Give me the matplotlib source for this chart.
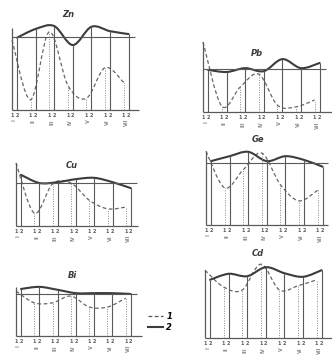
import numpy as np
import matplotlib
matplotlib.use('Agg')
import matplotlib.pyplot as plt
from matplotlib.path import Path
from matplotlib.patches import PathPatch
from matplotlib.lines import Line2D

# ---------------- data ----------------
elements = ['Zn', 'Pb', 'Cu', 'Ge', 'Bi', 'Cd']
periods = ['I', 'II', 'III', 'IV', 'V', 'VI', 'VII']
pair_labels = ['1', '2']
legend_labels = ['1', '2']

zn_1 = [96, 14, 107, 34, 16, 58, 38]
zn_2 = [99, 111, 115, 89, 114, 108, 104]
pb_1 = [163, 14, 58, 88, 16, 12, 28]
pb_2 = [98, 93, 102, 95, 123, 102, 114]
cu_1 = [147, 30, 98, 100, 60, 40, 44]
cu_2 = [119, 100, 102, 109, 112, 102, 88]
ge_1 = [119, 60, 89, 116, 65, 39, 56]
ge_2 = [103, 111, 118, 103, 111, 105, 94]
bi_1 = [107, 79, 79, 95, 69, 69, 90]
bi_2 = [112, 117, 110, 102, 102, 102, 100]
cd_1 = [113, 85, 80, 123, 80, 87, 97]
cd_2 = [97, 107, 103, 118, 108, 102, 113]
reference_level = 100

series_1 = {'Zn': zn_1, 'Pb': pb_1, 'Cu': cu_1, 'Ge': ge_1, 'Bi': bi_1, 'Cd': cd_1}
series_2 = {'Zn': zn_2, 'Pb': pb_2, 'Cu': cu_2, 'Ge': ge_2, 'Bi': bi_2, 'Cd': cd_2}

# ---------------- layout (pixels) ----------------
W, H = 332, 356
layout = {
    'Zn': dict(xs0=17, s=18.6, yb=110, k=73, box=(6, 140, 4, 134), title=(68, 15), top=112, xend=6.55, base=True),
    'Pb': dict(xs0=208, s=18.6, yb=112, k=43, box=(196, 332, 34, 136), title=(257, 53), top=163, xend=6.67, base=True),
    'Cu': dict(xs0=21, s=18.3, yb=226, k=43, box=(4, 142, 150, 248), title=(72, 165), top=147, xend=6.4, base=True),
    'Ge': dict(xs0=211, s=18.6, yb=225, k=62, box=(198, 332, 132, 248), title=(258, 140), top=119, xend=6.3, base=True),
    'Bi': dict(xs0=21, s=18.3, yb=336, k=42, box=(6, 144, 266, 356), title=(72, 275), top=117, xend=6.6, base=True),
    'Cd': dict(xs0=210, s=18.6, yb=338, k=60, box=(198, 332, 248, 356), title=(258, 254), top=113, xend=6.67, base=False),
}
OFF = 5  # px between dotted (1) and solid (2) verticals

DARK = '#3c3c3c'
MID = '#5a5a5a'
LIGHT = '#8a8a8a'


def smooth_path(x, y):
    pts = np.column_stack([x, y]).astype(float)
    n = len(pts)
    verts = [pts[0]]
    codes = [Path.MOVETO]
    for i in range(n - 1):
        p0 = pts[i - 1] if i > 0 else pts[i]
        p1 = pts[i]
        p2 = pts[i + 1]
        p3 = pts[i + 2] if i + 2 < n else pts[i + 1]
        verts += [p1 + (p2 - p0) / 6, p2 - (p3 - p1) / 6, p2]
        codes += [Path.CURVE4] * 3
    return Path(verts, codes)


fig = plt.figure(figsize=(W / 100, H / 100), dpi=100)
fig.patch.set_facecolor('white')

for el in elements:
    lo = layout[el]
    v1 = np.array(series_1[el], dtype=float)
    v2 = np.array(series_2[el], dtype=float)
    L, R, T, B = lo['box']
    xs0, s, yb, k = lo['xs0'], lo['s'], lo['yb'], lo['k']
    ax = fig.add_axes([L / W, 1 - B / H, (R - L) / W, (B - T) / H])
    ax.set_xlim((L - xs0) / s, (R - xs0) / s)
    ax.set_ylim((yb - B) / k * 100, (yb - T) / k * 100)
    ax.axis('off')

    xs = np.arange(len(periods), dtype=float)
    xd = xs - OFF / s

    # verticals
    ax.vlines(xs, 0, v2, colors=MID, lw=0.8, clip_on=False)
    ax.vlines(xd[1:], 0, v1[1:], colors=LIGHT, lw=0.7, linestyles=(0, (1, 1.5)), clip_on=False)
    ax.vlines(xd[0], 0, lo['top'], colors=MID, lw=0.9, clip_on=False)
    # bottom axis and reference level
    ax.hlines(0, xd[0], lo['xend'], colors=MID, lw=0.9, clip_on=False)
    if lo['base']:
        ax.hlines(reference_level, xd[0], min(lo['xend'], 6.35), colors=MID, lw=0.8, clip_on=False)

    # curves
    ax.add_patch(PathPatch(smooth_path(xd, v1), fill=False, ec='#666666', lw=0.9,
                           ls=(0, (3, 2)), clip_on=False))
    ax.add_patch(PathPatch(smooth_path(xs, v2), fill=False, ec=DARK, lw=1.5,
                           clip_on=False, capstyle='round'))

    # tick labels
    y1 = -3 / k * 100
    y2 = -9 / k * 100
    for i, p in enumerate(periods):
        ax.text(xd[i], y1, pair_labels[0], ha='center', va='top', fontsize=3.5,
                color=MID, fontweight='bold', clip_on=False)
        ax.text(xs[i], y1, pair_labels[1], ha='center', va='top', fontsize=3.5,
                color=MID, fontweight='bold', clip_on=False)
        ax.text((xd[i] + xs[i]) / 2, y2, p, ha='center', va='top', fontsize=3.5,
                rotation=90, color=LIGHT, fontweight='bold', clip_on=False)

    tx, ty = lo['title']
    ax.text((tx - xs0) / s, (yb - ty) / k * 100, el, ha='center', va='center',
            fontsize=6, fontweight='bold', fontstyle='italic', color=DARK, clip_on=False)

handles = [Line2D([], [], color='#555555', lw=0.9, ls=(0, (3, 2))),
           Line2D([], [], color=DARK, lw=1.5)]
fig.legend(handles, legend_labels, loc='center', bbox_to_anchor=(160 / W, 1 - 322 / H),
           frameon=False, fontsize=6, handlelength=1.8, handletextpad=0.4,
           labelspacing=0.2, prop={'style': 'italic', 'weight': 'bold', 'size': 6})

fig.savefig('out.png', dpi=100, facecolor='white')
